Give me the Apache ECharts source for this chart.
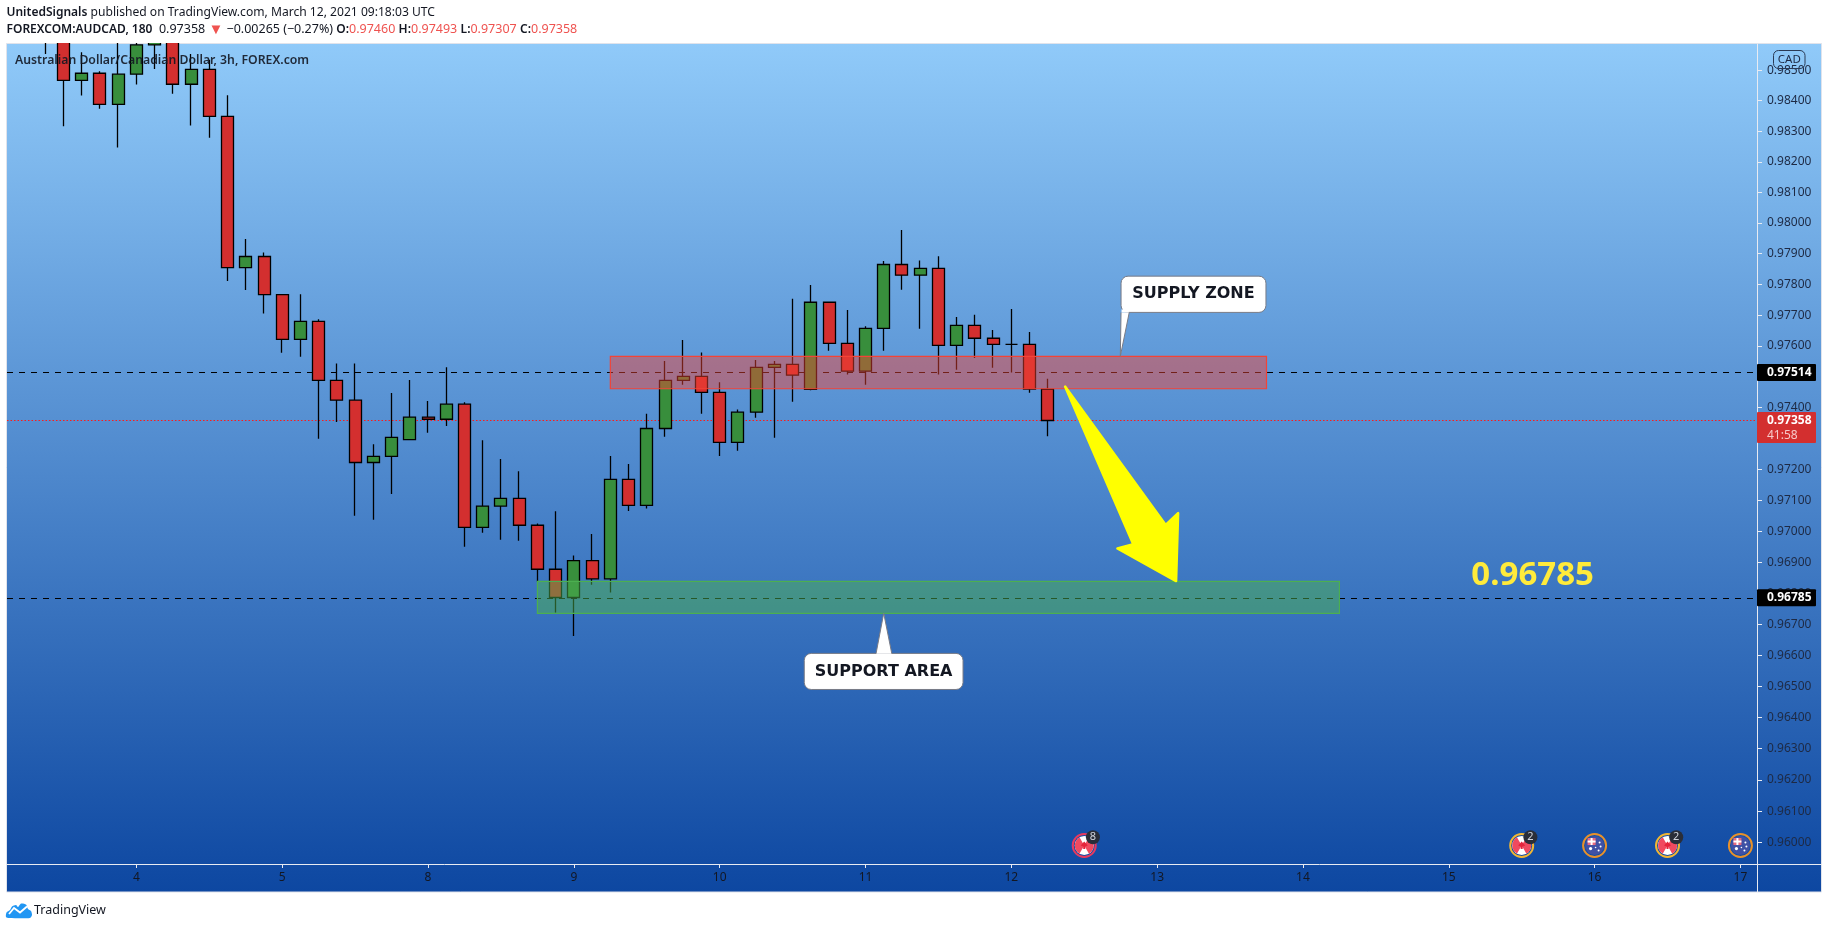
<!DOCTYPE html>
<html>
<head>
<meta charset="utf-8">
<style>html,body{margin:0;padding:0;background:#fff;overflow:hidden}#c{width:1828px;height:929px}</style>
<script src="https://cdn.jsdelivr.net/npm/echarts@6/dist/echarts.min.js"></script>
</head>
<body>
<div id="c"></div>
<script>
// 3h candle slot numbers (0 = Mar 4 00:00)
const slots = [-5,-4,-3,-2,-1,0,1,2,3,4,5,6,7,8,9,10,11,12,13,14,15,16,17,18,19,20,21,22,23,24,25,26,27,28,29,30,31,32,33,34,35,36,37,38,39,40,41,42,43,44,45,46,47,48,49,50];
const opens = [.98660,.98640,.98467,.98490,.98388,.98487,.98583,.98640,.98454,.98503,.98349,.97855,.97891,.97767,.97621,.97680,.97488,.97424,.97222,.97242,.97296,.97369,.97362,.97411,.97012,.97081,.97106,.97019,.96877,.96786,.96905,.96846,.97167,.97083,.97332,.97488,.97501,.97449,.97287,.97385,.97530,.97540,.97459,.97742,.97608,.97518,.97657,.97865,.97830,.97852,.97602,.97667,.97625,.97605,.97605,.97460];
const closes = [.98620,.98467,.98490,.98388,.98487,.98583,.98600,.98454,.98503,.98349,.97855,.97891,.97767,.97621,.97680,.97488,.97424,.97222,.97242,.97303,.97369,.97362,.97411,.97012,.97081,.97106,.97019,.96877,.96786,.96905,.96846,.97167,.97083,.97332,.97488,.97501,.97449,.97287,.97385,.97530,.97540,.97505,.97742,.97608,.97518,.97657,.97865,.97830,.97852,.97602,.97667,.97625,.97605,.97605,.97460,.97358];
const lows = [.98553,.98316,.98417,.98374,.98247,.98453,.98504,.98423,.98319,.98279,.97811,.97782,.97705,.97578,.97565,.97299,.97353,.97050,.97037,.97120,.97296,.97318,.97340,.96950,.96995,.96972,.96969,.96837,.96737,.96662,.96827,.96802,.97065,.97073,.97305,.97474,.97380,.97243,.97260,.97367,.97302,.97419,.97456,.97584,.97507,.97474,.97584,.97783,.97656,.97507,.97523,.97561,.97529,.97514,.97448,.97307];
const highs = [.98700,.98660,.98559,.98497,.98700,.98620,.98650,.98700,.98553,.98534,.98418,.97948,.97904,.97767,.97768,.97687,.97543,.97543,.97281,.97447,.97489,.97421,.97531,.97417,.97294,.97233,.97194,.97025,.97064,.96921,.96991,.97243,.97217,.97380,.97551,.97619,.97579,.97482,.97394,.97554,.97551,.97753,.97798,.97742,.97717,.97664,.97876,.97977,.97878,.97892,.97694,.97701,.97652,.97720,.97645,.97493];

const dayTickSlots = [0,8,16,24,32,40,48,56,64,72,80,88];
const dayTickLabels = ['4','5','8','9','10','11','12','13','14','15','16','17'];
const priceTicks = [.960,.961,.962,.963,.964,.965,.966,.967,.968,.969,.970,.971,.972,.973,.974,.975,.976,.977,.978,.979,.980,.981,.982,.983,.984,.985];
const yMin = 0.95931, yMax = 0.98586, xMin = -7.1, xMax = 88.91;

const dashedLevels = [0.97514, 0.96785];
const lastPrice = 0.97358;
// zones: slot from, slot to, price top, price bottom
const supplyZone = [26, 62, 0.97566, 0.97461];
const supportZone = [22, 66, 0.96838, 0.96735];
// arrow outline: slot, price
const arrowSlots = [50.95, 56.47, 57.15, 57.04, 53.82, 54.69];
const arrowPrices = [0.97468, 0.97020, 0.97058, 0.96839, 0.96944, 0.96958];
// callouts: text, box slot from/to, price top/bottom, pointer tip slot/price, pointer base slots
const supplyCallout = ['SUPPLY ZONE', 54.02, 61.97, 0.97827, 0.97709, 53.98, 0.97566, 54.02, 54.47];
const supportCallout = ['SUPPORT AREA', 36.64, 45.35, 0.96606, 0.96490, 41.0, 0.96735, 40.58, 41.44];
const targetLabel = ['0.96785', 76.6, 0.96857];
// events on the time scale
const eventSlots = [52, 76, 80, 84, 88];
const eventFlags = ['CA', 'CA', 'AU', 'CA', 'AU'];
const eventCounts = ['8', '2', '', '2', ''];
const eventRings = ['#e8395f', '#f2b632', '#e8912a', '#f2b632', '#e8912a'];
const eventPrice = 0.9599;

const UI = '"Noto Sans", sans-serif';
const NUM = '"Noto Sans", sans-serif';
const LBL = '"DejaVu Sans", sans-serif';

function customBase(z, data, renderItem) {
  return { type: 'custom', z, silent: true, animation: false, clip: false, data, renderItem,
    encode: { x: 0, y: 1 } };
}
function px(api, s, p) { return api.coord([s, p]); }

const levelSeries = customBase(1, [...dashedLevels.map(v => [0, v, 'dash']), [0, lastPrice, 'dot']], (params, api) => {
  const cs = params.coordSys, y = Math.round(api.coord([0, api.value(1)])[1]) + .5;
  const kind = params.dataIndex === dashedLevels.length ? 'dot' : 'dash';
  return { type: 'line', silent: true, z2: 1,
    shape: { x1: cs.x, y1: y, x2: cs.x + cs.width, y2: y },
    style: kind === 'dot' ? { stroke: '#ff1a1a', lineWidth: 1, lineDash: [1.5, 2] } : { stroke: '#000', lineWidth: 1, lineDash: [6, 6] } };
});

function zoneSeries(zone, fill, stroke) {
  return customBase(5, [[zone[0], zone[2]]], (params, api) => {
    const a = px(api, zone[0], zone[2]), b = px(api, zone[1], zone[3]);
    return { type: 'rect', shape: { x: a[0], y: a[1], width: b[0] - a[0], height: b[1] - a[1] },
      style: { fill, stroke, lineWidth: 1.2 } };
  });
}

const arrowSeries = customBase(6, [[arrowSlots[0], arrowPrices[0]]], (params, api) => ({
  type: 'polygon',
  shape: { points: arrowSlots.map((s, i) => px(api, s, arrowPrices[i])) },
  style: { fill: '#ffff00', stroke: '#ffff00', lineWidth: 2.5, lineJoin: 'round' }
}));

function calloutSeries(c) {
  return customBase(7, [[c[1], c[3]]], (params, api) => {
    const a = px(api, c[1], c[3]), b = px(api, c[2], c[4]), tip = px(api, c[5], c[6]);
    const up = tip[1] < a[1];
    const edge = up ? a[1] : b[1];
    const b1 = [px(api, c[7], c[3])[0], edge], b2 = [px(api, c[8], c[3])[0], edge];
    return { type: 'group', children: [
      { type: 'rect', shape: { x: a[0], y: a[1], width: b[0] - a[0], height: b[1] - a[1], r: 7 },
        style: { fill: '#fff', stroke: '#787b86', lineWidth: 1 } },
      { type: 'polygon', shape: { points: [tip, b1, b2] }, style: { fill: '#fff' } },
      { type: 'line', shape: { x1: b1[0] + .5, y1: edge + (up ? 1.5 : -1.5), x2: b2[0] - .5, y2: edge + (up ? 1.5 : -1.5) }, style: { stroke: '#fff', lineWidth: 3 } },
      { type: 'polyline', shape: { points: [b1, tip, b2] }, style: { stroke: '#787b86', lineWidth: 1, fill: null } },
      { type: 'text', style: { text: c[0], x: (a[0] + b[0]) / 2, y: (a[1] + b[1]) / 2, align: 'center', verticalAlign: 'middle',
        fill: '#131722', font: 'bold 16px ' + LBL } }
    ] };
  });
}

const targetSeries = customBase(7, [[targetLabel[1], targetLabel[2]]], (params, api) => {
  const p = px(api, targetLabel[1], targetLabel[2]);
  return { type: 'text', style: { text: targetLabel[0], x: p[0], y: p[1], align: 'center', verticalAlign: 'middle',
    fill: '#ffeb3b', font: 'bold 33px ' + UI } };
});

// price tags on the scale
const tagSeries = customBase(8, [[0, dashedLevels[0]], [0, dashedLevels[1]], [0, lastPrice]], (params, api) => {
  const cs = params.coordSys, x = cs.x + cs.width, y = api.coord([0, api.value(1)])[1];
  const price = api.value(1).toFixed(5);
  if (params.dataIndex < 2) {
    return { type: 'group', children: [
      { type: 'rect', shape: { x, y: y - 8.5, width: 59, height: 17, r: 1 }, style: { fill: '#000' } },
      { type: 'text', style: { text: price, x: x + 10, y: y, verticalAlign: 'middle', fill: '#fff', font: 'bold 12px ' + NUM } }
    ] };
  }
  return { type: 'group', children: [
    { type: 'rect', shape: { x, y: y - 8.5, width: 59, height: 31, r: 1 }, style: { fill: '#d32f2f' } },
    { type: 'text', style: { text: price, x: x + 10, y: y + .5, verticalAlign: 'middle', fill: '#fff', font: 'bold 12px ' + NUM } },
    { type: 'text', style: { text: '41:58', x: x + 10, y: y + 15, verticalAlign: 'middle', fill: '#f6c8c8', font: '12px ' + NUM } }
  ] };
});

// event icons
const eventSeries = customBase(8, eventSlots.map(s => [s, eventPrice]), (params, api) => {
  const i = params.dataIndex, p = api.coord([api.value(0), api.value(1)]);
  const cx = p[0], cy = p[1], ch = [];
  if (eventFlags[i] === 'CA') {
    ch.push({ type: 'circle', shape: { cx, cy, r: 9.5 }, style: { fill: '#fff' } });
    ch.push({ type: 'sector', shape: { cx, cy, r: 9.5, r0: 0, startAngle: 2.1, endAngle: 4.19 }, style: { fill: '#f04a5f' } });
    ch.push({ type: 'sector', shape: { cx, cy, r: 9.5, r0: 0, startAngle: -1.05, endAngle: 1.05 }, style: { fill: '#f04a5f' } });
    ch.push({ type: 'polygon', shape: { points: [[cx, cy - 4], [cx + 3.5, cy], [cx + 1, cy + 1], [cx + 1, cy + 3.5], [cx - 1, cy + 3.5], [cx - 1, cy + 1], [cx - 3.5, cy]] }, style: { fill: '#e5243b' } });
  } else {
    ch.push({ type: 'circle', shape: { cx, cy, r: 9.5 }, style: { fill: '#3f51a5' } });
    ch.push({ type: 'rect', shape: { x: cx - 7, y: cy - 7.5, width: 8, height: 7 }, style: { fill: '#e86a80' } });
    ch.push({ type: 'rect', shape: { x: cx - 4, y: cy - 7.5, width: 2, height: 7 }, style: { fill: '#fff' } });
    ch.push({ type: 'rect', shape: { x: cx - 7, y: cy - 5, width: 8, height: 2 }, style: { fill: '#fff' } });
    [[-4, 3, 1.6], [5, -3, 1], [6, 1, 1], [4, 5, 1], [1, 2, .8]].forEach(d =>
      ch.push({ type: 'circle', shape: { cx: cx + d[0], cy: cy + d[1], r: d[2] }, style: { fill: '#fff' } }));
  }
  ch.push({ type: 'circle', shape: { cx, cy, r: 11.5 }, style: { fill: null, stroke: eventRings[i], lineWidth: 2 } });
  if (eventCounts[i]) {
    ch.push({ type: 'circle', shape: { cx: cx + 8.7, cy: cy - 8.3, r: 7 }, style: { fill: '#2a2e39' } });
    ch.push({ type: 'text', style: { text: eventCounts[i], x: cx + 8.7, y: cy - 8.3, align: 'center', verticalAlign: 'middle', fill: '#d1d4dc', font: '11px ' + NUM } });
  }
  return { type: 'group', children: ch };
});

const chart = echarts.init(document.getElementById('c'), null, { renderer: 'canvas' });
chart.setOption({
  animation: false,
  backgroundColor: '#fff',
  grid: { left: 7, right: 71, top: 44, bottom: 65, containLabel: false },
  xAxis: {
    type: 'value', min: xMin, max: xMax, splitLine: { show: false },
    axisLine: { onZero: false, lineStyle: { color: '#e8ebf2', width: 1 } },
    axisTick: { length: 4, customValues: dayTickSlots, lineStyle: { color: '#e8ebf2' } },
    axisLabel: { customValues: dayTickSlots, margin: 8, color: '#131722', fontFamily: NUM, fontSize: 12,
      formatter: v => dayTickLabels[dayTickSlots.indexOf(v)] }
  },
  yAxis: {
    type: 'log', logBase: 10, position: 'right', min: yMin, max: yMax, scale: true, splitLine: { show: false }, minorTick: { show: false },
    axisLine: { show: true, onZero: false, lineStyle: { color: '#e8ebf2', width: 1 } },
    axisTick: { show: true, length: 5, customValues: priceTicks, lineStyle: { color: '#e8ebf2' } },
    axisLabel: { customValues: priceTicks, margin: 10, color: '#1e2a44', fontFamily: NUM, fontSize: 12,
      formatter: v => Number(v).toFixed(5), hideOverlap: false, showMinLabel: true, showMaxLabel: true }
  },
  graphic: { elements: [
    { type: 'rect', z: -100, silent: true, shape: { x: 6.5, y: 43.5, width: 1815, height: 848.5 },
      style: { stroke: '#e0e3eb', lineWidth: 1, fill: new echarts.graphic.LinearGradient(0, 0, 0, 1, [{ offset: 0, color: '#90caf9' }, { offset: 1, color: '#0d47a1' }]) } },
    { type: 'rect', z: 9, silent: true, shape: { x: 0, y: 0, width: 1828, height: 43 }, style: { fill: '#fff' } },
    { type: 'line', z: 1, silent: true, shape: { x1: 1757, y1: 864.5, x2: 1822, y2: 864.5 }, style: { stroke: '#e8ebf2', lineWidth: 1 } },
    { type: 'line', z: 1, silent: true, shape: { x1: 1757.5, y1: 864, x2: 1757.5, y2: 892 }, style: { stroke: '#e8ebf2', lineWidth: 1 } },
    { type: 'rect', z: 20, silent: true, shape: { x: 1773.5, y: 50.5, width: 31.5, height: 18, r: 5 }, style: { fill: null, stroke: '#2a3a55', lineWidth: 1 } },
    { type: 'text', z: 20, silent: true, style: { text: 'CAD', x: 1789.3, y: 59.5, align: 'center', verticalAlign: 'middle', fill: '#1e2a44', font: '11.5px ' + NUM } },
    { type: 'text', z: 20, silent: true, style: { text: 'Australian Dollar/Canadian Dollar, 3h, FOREX.com', x: 15, y: 60.5, verticalAlign: 'middle', fill: '#131722', font: '600 12.25px ' + UI, opacity: .9 } },
    { type: 'text', z: 20, silent: true, style: { x: 6.5, y: 12.5, verticalAlign: 'middle', text: '{b|UnitedSignals}{r| published on TradingView.com, March 12, 2021 09:18:03 UTC}',
      rich: { b: { font: '600 12px ' + UI, fill: '#131722' }, r: { font: '12.1px ' + UI, fill: '#131722' } } } },
    { type: 'text', z: 20, silent: true, style: { x: 6.5, y: 29.5, verticalAlign: 'middle',
      text: '{b|FOREXCOM:AUDCAD, 180}{r|  0.97358 }{t|▼}{r| −0.00265 (−0.27%) }{b|O:}{v|0.97460} {b|H:}{v|0.97493} {b|L:}{v|0.97307} {b|C:}{v|0.97358}',
      rich: { b: { font: '600 12px ' + UI, fill: '#131722' }, r: { font: '12.5px ' + UI, fill: '#131722' }, v: { font: '12.5px ' + UI, fill: '#ef5350' }, t: { font: '15px ' + UI, fill: '#ef5350' } } } },
    { type: 'polygon', z: 20, silent: true, shape: { smooth: .25, points: [[6, 917], [6.5, 912.5], [10, 910], [12, 906.5], [16, 905], [18, 907], [21, 903.5], [26, 904.5], [28, 909], [31, 911], [32, 915], [30, 918], [9, 918]] }, style: { fill: '#2196f3' } },
    { type: 'polyline', z: 21, silent: true, shape: { points: [[9, 914], [14, 908], [20, 912.5], [27, 906.5]] }, style: { stroke: '#fff', lineWidth: 1.8, fill: null } },
    { type: 'text', z: 20, silent: true, style: { text: 'TradingView', x: 34, y: 910.5, verticalAlign: 'middle', fill: '#131722', font: '12.5px ' + UI } }
  ] },
  series: [
    levelSeries,
    {
      type: 'candlestick', z: 2, silent: true, animation: false, barWidth: 12.5, clip: true,
      data: slots.map((s, i) => [s, opens[i], closes[i], lows[i], highs[i]]),
      itemStyle: { color: '#388e3c', color0: '#d32f2f', borderColor: '#000', borderColor0: '#000', borderColorDoji: '#000', borderWidth: 1.3 }
    },
    zoneSeries(supplyZone, 'rgba(244,67,54,.47)', '#f44336'),
    zoneSeries(supportZone, 'rgba(76,175,80,.5)', '#4caf50'),
    arrowSeries,
    calloutSeries(supplyCallout),
    calloutSeries(supportCallout),
    targetSeries,
    tagSeries,
    eventSeries
  ]
});
</script>
</body>
</html>
